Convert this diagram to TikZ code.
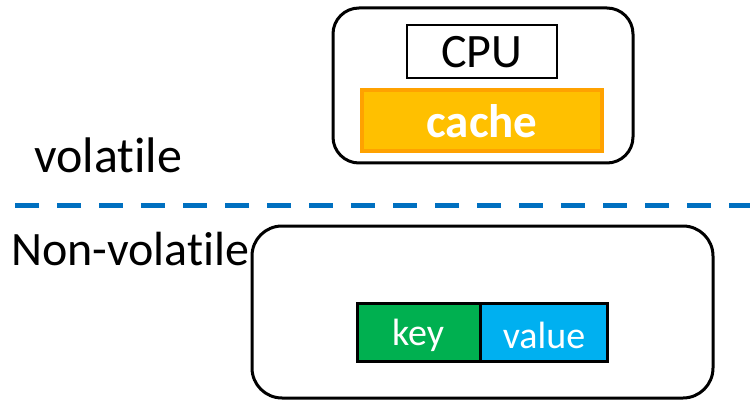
\documentclass[tikz,border=0pt]{standalone}
\usepackage{fontspec}
\setmainfont[Ligatures=NoCommon]{Carlito}
\definecolor{cacheyel}{HTML}{FFC000}
\definecolor{cacheorg}{HTML}{FFA200}
\definecolor{keygreen}{HTML}{00B050}
\definecolor{valblue}{HTML}{00B0F0}
\definecolor{dashblue}{HTML}{0070C0}
\begin{document}
\begin{tikzpicture}[x=1pt,y=-1pt,
  outerbox/.style={draw=black,line width=3pt,rounded corners=26pt},
  cpubox/.style={draw=black,line width=1.5pt,fill=white},
  cachebox/.style={draw=cacheorg,line width=3.5pt,fill=cacheyel},
  kvbox/.style={draw=black,line width=3pt},
  bigtxt/.style={font=\fontsize{48}{50}\selectfont},
  kvtxt/.style={font=\fontsize{38}{40}\selectfont,text=white}]
\useasboundingbox (0,0) rectangle (750,401);
% top box
\draw[outerbox] (333,8) rectangle (633,163);
\draw[cpubox] (407,25) rectangle (557,78);
\node[bigtxt] (cpu) at (482,52) {CPU};
\draw[cachebox] (362,90) rectangle (602,151);
\node[text=white,font=\fontsize{47}{50}\selectfont\bfseries] (cache) at (482,121) {cache};
% labels
\node[font=\fontsize{50}{52}\selectfont,anchor=base west,inner sep=0pt] (vol) at (34,172) {volatile};
\node[bigtxt,anchor=base west,inner sep=0pt] (nonvol) at (11,265) {Non-volatile};
% dashed line
\coordinate (dl) at (15,205);
\coordinate (dr) at (750,205);
\draw[dashblue,line width=5pt,dash pattern=on 24pt off 18pt] (dl) -- (dr);
% bottom box
\draw[outerbox,rounded corners=30pt] (252,226) rectangle (713,398);
\draw[kvbox,fill=keygreen] (357,303) rectangle (480,361);
\draw[kvbox,fill=valblue] (480,303) rectangle (607,361);
\node[kvtxt] (key) at (418,335) {key};
\node[kvtxt] (value) at (544,335) {value};
\end{tikzpicture}
\end{document}
